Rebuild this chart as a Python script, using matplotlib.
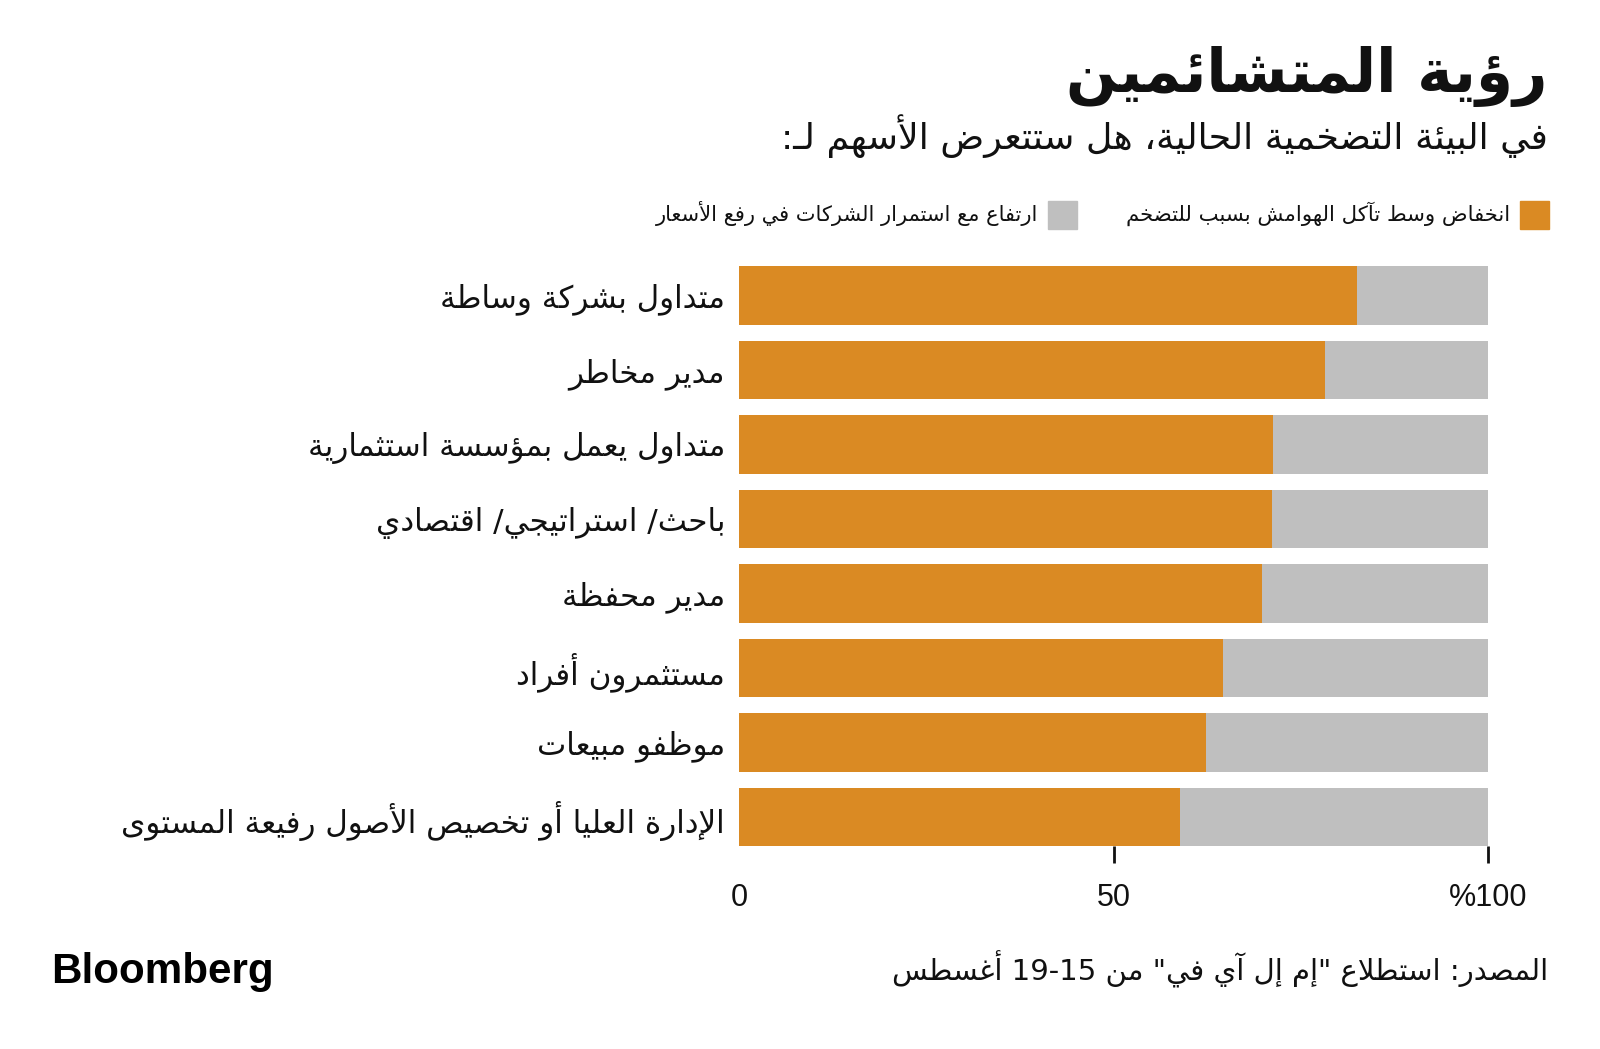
import re
import matplotlib
matplotlib.use("Agg")
import matplotlib.pyplot as plt
import numpy as np

# ---- data ----
title = "رؤية المتشائمين"
subtitle = "في البيئة التضخمية الحالية، هل ستتعرض الأسهم لـ:"
series_names = ["انخفاض وسط تآكل الهوامش بسبب للتضخم",
                "ارتفاع مع استمرار الشركات في رفع الأسعار"]
categories = [
    "متداول بشركة وساطة",
    "مدير مخاطر",
    "متداول يعمل بمؤسسة استثمارية",
    "باحث/ استراتيجي/ اقتصادي",
    "مدير محفظة",
    "مستثمرون أفراد",
    "موظفو مبيعات",
    "الإدارة العليا أو تخصيص الأصول رفيعة المستوى",
]
lower = [82.5, 78.3, 71.3, 71.1, 69.8, 64.6, 62.3, 58.9]
higher = [100 - v for v in lower]
xticks = [0, 50, 100]
xticklabels = ["0", "50", "%100"]
source = 'المصدر: استطلاع "إم إل آي في" من 15-19 أغسطس'

ORANGE = "#DA8A23"
GRAY = "#BFBFBF"

# ---- minimal arabic shaping (matplotlib has no complex text layout) ----
BOTH = {'ئ': 0xFE89, 'ب': 0xFE8F, 'ت': 0xFE95, 'ث': 0xFE99, 'ج': 0xFE9D,
        'ح': 0xFEA1, 'خ': 0xFEA5, 'س': 0xFEB1, 'ش': 0xFEB5, 'ص': 0xFEB9,
        'ض': 0xFEBD, 'ط': 0xFEC1, 'ظ': 0xFEC5, 'ع': 0xFEC9, 'غ': 0xFECD,
        'ف': 0xFED1, 'ق': 0xFED5, 'ك': 0xFED9, 'ل': 0xFEDD, 'م': 0xFEE1,
        'ن': 0xFEE5, 'ه': 0xFEE9, 'ي': 0xFEF1}
RIGHT = {'آ': 0xFE81, 'أ': 0xFE83, 'ؤ': 0xFE85, 'إ': 0xFE87, 'ا': 0xFE8D,
         'ة': 0xFE93, 'د': 0xFEA9, 'ذ': 0xFEAB, 'ر': 0xFEAD, 'ز': 0xFEAF,
         'و': 0xFEED, 'ى': 0xFEEF}
LAMALEF = {'آ': 0xFEF5, 'أ': 0xFEF7, 'إ': 0xFEF9, 'ا': 0xFEFB}
TATWEEL = 'ـ'


def joins_next(t):
    return t in BOTH or t == TATWEEL


def joins_prev(t):
    return isinstance(t, tuple) or t in BOTH or t in RIGHT or t == TATWEEL


def shape(s):
    toks = []
    i = 0
    while i < len(s):
        if s[i] == 'ل' and i + 1 < len(s) and s[i + 1] in LAMALEF:
            toks.append(('LA', s[i + 1]))
            i += 2
        else:
            toks.append(s[i])
            i += 1
    out = []
    for k, t in enumerate(toks):
        prev = toks[k - 1] if k > 0 else None
        nxt = toks[k + 1] if k + 1 < len(toks) else None
        p = prev is not None and not isinstance(prev, tuple) and joins_next(prev)
        if isinstance(t, tuple):
            out.append(chr(LAMALEF[t[1]] + (1 if p else 0)))
        elif t in BOTH:
            n = nxt is not None and joins_prev(nxt)
            form = {(False, False): 0, (True, False): 1,
                    (False, True): 2, (True, True): 3}[(p, n)]
            out.append(chr(BOTH[t] + form))
        elif t in RIGHT:
            out.append(chr(RIGHT[t] + (1 if p else 0)))
        else:
            out.append(t)
    return ''.join(out)


def ar(s):
    s = shape(s)
    runs = re.split(r'([0-9A-Za-z]+)', s)
    return ''.join(r if re.fullmatch(r'[0-9A-Za-z]+', r) else r[::-1]
                   for r in reversed(runs))


plt.rcParams['font.family'] = ['DejaVu Sans']

W, H = 1600, 1049
fig = plt.figure(figsize=(16, 10.49), dpi=100)


def fx(x):
    return x / W


def fy(y):
    return 1 - y / H


ax = fig.add_axes([fx(739), fy(846), fx(1488) - fx(739), (846 - 258.25) / H])
y = np.arange(len(categories))
ax.barh(y, lower, height=0.783, color=ORANGE)
ax.barh(y, higher, left=lower, height=0.783, color=GRAY)
ax.set_xlim(0, 100)
ax.set_ylim(7.39, -0.5)
for sp in ax.spines.values():
    sp.set_visible(False)
ax.set_yticks(y)
ax.set_yticklabels([ar(c) for c in categories], fontsize=22.3, color='#111111')
ax.tick_params(axis='y', length=0, pad=10)
ax.set_xticks(xticks)
ax.set_xticklabels(xticklabels, fontsize=22, family=['Liberation Sans'], color='#111111')
ax.tick_params(axis='x', length=12, width=2, pad=15, color='#111111')
ax.xaxis.get_major_ticks()[0].tick1line.set_visible(False)

# titles
fig.text(fx(1548), fy(76), ar(title), ha='right', va='center', fontsize=43,
         fontweight='bold', color='#111111')
fig.text(fx(1548), fy(136), ar(subtitle), ha='right', va='center', fontsize=26.2,
         color='#111111')

# legend
fig.patches.append(plt.Rectangle((fx(1520), fy(229)), fx(29), 28 / H,
                                 transform=fig.transFigure, color=ORANGE))
fig.text(fx(1510), fy(214), ar(series_names[0]), ha='right', va='center',
         fontsize=15.3, color='#111111')
fig.patches.append(plt.Rectangle((fx(1048), fy(229)), fx(29), 28 / H,
                                 transform=fig.transFigure, color=GRAY))
fig.text(fx(1038), fy(214), ar(series_names[1]), ha='right', va='center',
         fontsize=15.1, color='#111111')

# footer
fig.text(fx(1548), fy(969), ar(source), ha='right', va='center', fontsize=21,
         color='#111111')
fig.text(fx(51), fy(972), "Bloomberg", ha='left', va='center', fontsize=30.3,
         fontweight='bold', family=['Liberation Sans'], color='black')

fig.savefig("out.png", dpi=100, facecolor='white')
